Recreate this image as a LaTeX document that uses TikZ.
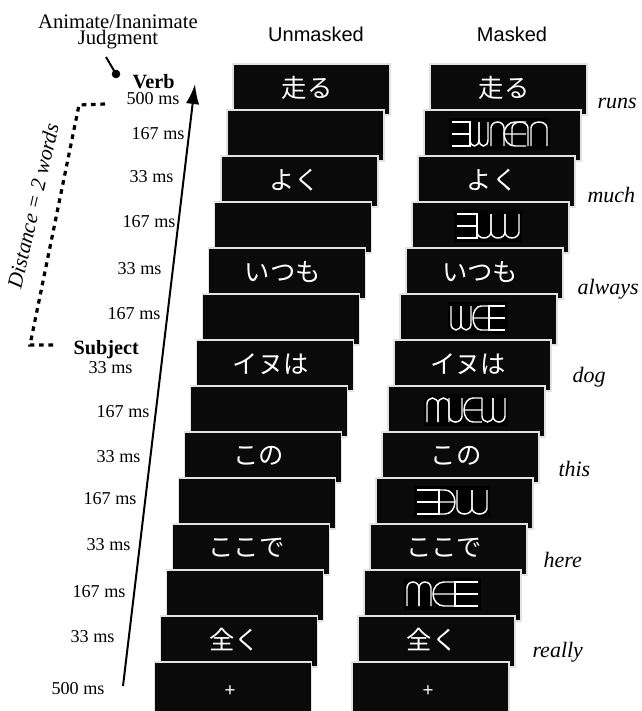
\documentclass[tikz,border=0pt]{standalone}
\usepackage{fontspec}
\setmainfont{Liberation Serif}
\newfontfamily\jpfont{Noto Sans CJK JP}
\newfontfamily\hdfont{Liberation Sans}
\usetikzlibrary{arrows.meta}

\tikzset{every picture/.style={line width=0.75pt}}
\tikzset{
  card/.style={fill={rgb, 255:red, 10; green, 10; blue, 10}, draw={rgb, 255:red, 226; green, 226; blue, 226}, line width=0.9pt},
  mline/.style={draw=white, line width=1.1pt},
  jword/.style={text=white, inner sep=0pt, font=\jpfont\fontsize{19}{19}\selectfont},
  fixcross/.style={text=white, inner sep=0pt, font=\hdfont\fontsize{14}{14}\selectfont},
  mstime/.style={anchor=east, inner sep=0pt, font=\fontsize{13.6}{14}\selectfont},
  tagword/.style={anchor=base west, inner sep=0pt, font=\bfseries\fontsize{15.2}{16}\selectfont},
  gloss/.style={anchor=base west, inner sep=0pt, font=\itshape\fontsize{16.5}{17}\selectfont},
  colhead/.style={inner sep=0pt, font=\hdfont\fontsize{15}{16}\selectfont},
}

% mask strokes: offset, width (height 24)
\newcommand{\mkbars}[2]{\draw[mline] (#1,0) -- ({#1+#2},0) -- ({#1+#2},24) -- (#1,24) (#1,12) -- ({#1+#2},12);}
\newcommand{\mkE}[2]{\draw[mline] ({#1+#2},0) -- (#1,0) -- (#1,24) -- ({#1+#2},24) (#1,12) -- ({#1+#2},12);}
\newcommand{\mkcup}[2]{\draw[mline] (#1,0) -- (#1,18) .. controls (#1,21.3) and ({#1+0.224*#2},24) .. ({#1+0.5*#2},24) .. controls ({#1+0.776*#2},24) and ({#1+#2},21.3) .. ({#1+#2},18) -- ({#1+#2},0);}
\newcommand{\mkcap}[2]{\draw[mline] (#1,24) -- (#1,6) .. controls (#1,2.7) and ({#1+0.224*#2},0) .. ({#1+0.5*#2},0) .. controls ({#1+0.776*#2},0) and ({#1+#2},2.7) .. ({#1+#2},6) -- ({#1+#2},24);}
\newcommand{\mkin}[2]{\draw[mline] ({#1+#2},0) -- ({#1+0.5*#2},0) .. controls ({#1+0.224*#2},0) and (#1,5.4) .. (#1,12) .. controls (#1,18.6) and ({#1+0.224*#2},24) .. ({#1+0.5*#2},24) -- ({#1+#2},24) (#1,12) -- ({#1+#2},12);}
\newcommand{\mkni}[2]{\draw[mline] (#1,0) -- ({#1+0.5*#2},0) .. controls ({#1+0.776*#2},0) and ({#1+#2},5.4) .. ({#1+#2},12) .. controls ({#1+#2},18.6) and ({#1+0.776*#2},24) .. ({#1+0.5*#2},24) -- (#1,24) (#1,12) -- ({#1+#2},12);}

\begin{document}
\begin{tikzpicture}[x=0.75pt,y=0.75pt,yscale=-1,xscale=1]
\useasboundingbox (0,0) rectangle (642,711);

%Cards, back to front
\foreach \i in {0,...,13}{
  \draw[card] ({233-6.05*\i},{64+46*\i}) rectangle ++(157,51);
  \draw[card] ({430-6*\i},{64+46*\i}) rectangle ++(157,51);
}

%Words
\foreach \i/\w in {0/走る,2/よく,4/いつも,6/イヌは,8/この,10/ここで,12/全く}{
  \node[jword] (u\i) at ({233-6.05*\i+74},{64+46*\i+24}) {\w};
  \node[jword] (m\i) at ({430-6*\i+74},{64+46*\i+24}) {\w};
}
\node[fixcross] (u13) at (230,691) {+};
\node[fixcross] (m13) at (428,691) {+};

%Masks
\begin{scope}[shift={(452,122)}]
  \fill[black] (-3,-4) rectangle (98,28);
  \mkbars{0}{18} \mkcup{18}{9} \mkcup{27}{9} \mkcap{39}{13} \mkin{52}{22} \mkcap{60}{16} \mkcap{79}{16}
\end{scope}
\begin{scope}[shift={(457,214)}]
  \fill[black] (-3,-4) rectangle (65,28);
  \mkbars{0}{20} \mkcup{20}{14} \mkcup{34}{14} \mkcup{48}{14}
\end{scope}
\begin{scope}[shift={(451,306)}]
  \fill[black] (-3,-4) rectangle (57,28);
  \mkcup{0}{10} \mkcup{10}{10} \mkin{22}{16} \mkE{38}{16}
\end{scope}
\begin{scope}[shift={(427,398)}]
  \fill[black] (-3,-4) rectangle (81,28);
  \mkcap{0}{11} \mkcap{11}{11} \mkcup{22}{13} \mkin{37}{18} \mkcup{55}{11} \mkcup{66}{12}
\end{scope}
\begin{scope}[shift={(417,490)}]
  \fill[black] (-3,-4) rectangle (73,28);
  \mkbars{0}{22} \mkni{18}{20} \mkcup{40}{15} \mkcup{55}{15}
\end{scope}
\begin{scope}[shift={(407,582)}]
  \fill[black] (-3,-4) rectangle (74,28);
  \mkcap{0}{12} \mkcap{12}{12} \mkin{26}{22} \mkE{48}{23}
\end{scope}

% Text Node
\node[colhead] (headU) at (316,34) {Unmasked};
% Text Node
\node[colhead] (headM) at (512,34) {Masked};
% Text Node
\node[anchor=base, inner sep=0pt, font=\fontsize{15.5}{16}\selectfont] (judgeA) at (118,28.3) {Animate/Inanimate};
% Text Node
\node[anchor=base, inner sep=0pt, font=\fontsize{15.5}{16}\selectfont] (judgeB) at (118,44.8) {Judgment};

%Pin to the verb
\coordinate (pinTop) at (106,57);
\coordinate (pinEnd) at (116,74);
\draw[line width=1.5pt] (pinTop) -- (pinEnd);
\fill (pinEnd) circle [radius=4.3];

% Text Node
\node[tagword] (verb) at (132,88) {Verb};
% Text Node
\node[tagword] (subj) at (73,354) {Subject};

%Durations
\foreach \t/\x/\y [count=\n] in {500/180/99, 167/185/134, 33/174/177, 167/176/222, 33/162/269, 167/161/314, 33/133/368, 167/150/412, 33/141/457, 167/137/499, 33/131/545, 167/126/592, 33/115/637, 500/105/689}{
  \node[mstime] (time\n) at (\x,\y) {\t\ ms};
}

%Time arrow
\coordinate (tline0) at (123,686);
\coordinate (tline1) at (195,84);
\draw[line width=1.5pt, -{Latex[length=15pt,width=10pt]}] (tline0) -- (tline1);

%Dotted bracket
\coordinate (brA) at (105,104);
\coordinate (brB) at (79,105);
\coordinate (brC) at (30,345);
\coordinate (brD) at (54,345);
\draw[line width=2.4pt, dash pattern=on 3.5pt off 3.5pt] (brA) -- (brB) -- (brC) -- (brD);
% Text Node
\node[rotate=77, inner sep=0pt, font=\itshape\fontsize{16}{16}\selectfont] (dist) at (33,206) {Distance = 2 words};

%Glosses
\foreach \g/\x/\y in {runs/597/108, much/587/202, always/577/294, dog/572/382, this/558/476, here/543/567, really/532/657}{
  \node[gloss] (g\g) at (\x,\y) {\g};
}

\end{tikzpicture}
\end{document}
